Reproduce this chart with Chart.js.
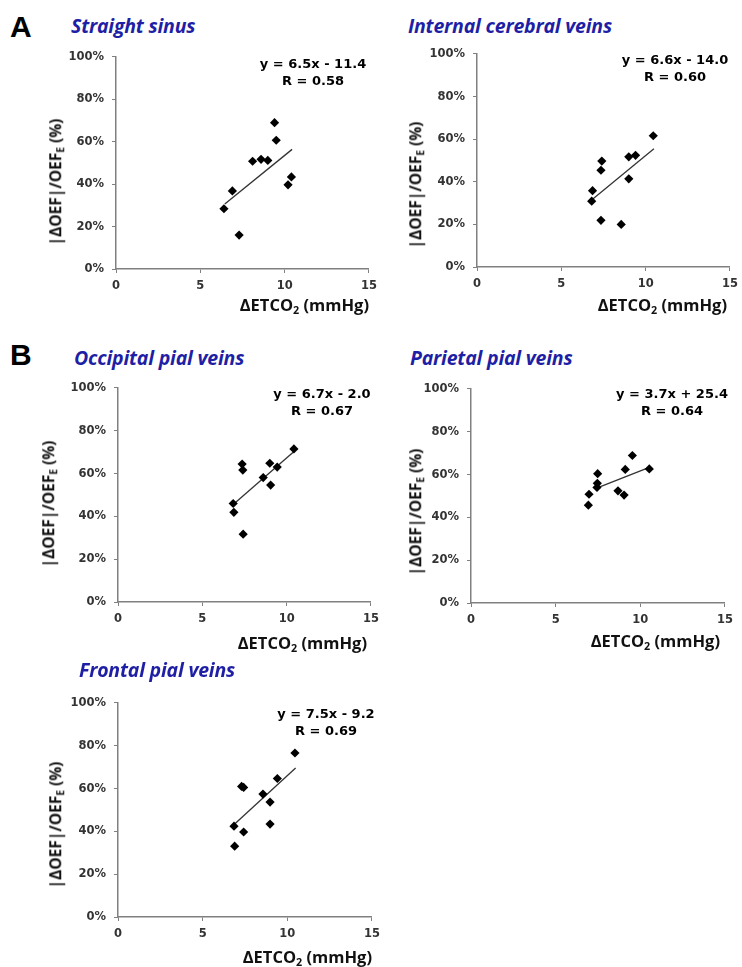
<!DOCTYPE html>
<html>
<head>
<meta charset="utf-8">
<script src="https://cdn.jsdelivr.net/npm/chart.js@4.4.1/dist/chart.umd.min.js"></script>
<style>
  body { margin: 0; background: #fff; }
  #fig { position: relative; width: 742px; height: 967px; overflow: hidden; background: #fff; }
  canvas.plot { position: absolute; }
  .title { position: absolute; font: italic bold 19.5px "Open Sans", sans-serif; color: #1f1fa5; white-space: nowrap; line-height: 1; letter-spacing: -0.2px; }
  .letter { position: absolute; font: bold 30px "Liberation Sans", Arial, sans-serif; color: #000; line-height: 1; }
  .eq { position: absolute; font: bold 13px "DejaVu Sans", sans-serif; color: #000; text-align: center; line-height: 17px; white-space: nowrap; transform: translateX(-50%); }
  .xt { position: absolute; font: bold 16.5px "Open Sans", sans-serif; color: #111; white-space: nowrap; line-height: 1; transform: translate(-100%, -50%); }
  .yt { position: absolute; font: bold 15.5px "Open Sans", sans-serif; color: #111; white-space: nowrap; line-height: 1; transform: translate(-50%, -50%) rotate(-90deg); }
  sub { font-size: 65%; vertical-align: -0.3em; line-height: 0; }
</style>
</head>
<body>
<div id="fig">
  <div class="letter" style="left:10px;top:12px">A</div>
  <div class="letter" style="left:10px;top:340px">B</div>
</div>
<script>
// values: ΔETCO2 (mmHg) vs |ΔOEF|/OEF_E (%)
const straightX = [6.4, 6.9, 7.3, 8.1, 8.6, 9.0, 9.4, 9.5, 10.2, 10.4];
const straightY = [28.4, 36.8, 16.0, 50.8, 51.7, 51.2, 69.0, 60.7, 39.7, 43.4];
const straightFitX = [6.45, 10.44];
const straightFitY = [30.6, 56.4];

const internalX = [6.8, 6.85, 7.35, 7.35, 7.4, 8.55, 9.0, 9.0, 9.4, 10.45];
const internalY = [30.9, 35.8, 21.9, 45.4, 49.7, 20.0, 41.4, 51.7, 52.4, 61.6];
const internalFitX = [6.85, 10.49];
const internalFitY = [31.8, 55.5];

const occipitalX = [6.83, 6.87, 7.36, 7.4, 7.42, 8.61, 9.0, 9.05, 9.44, 10.43];
const occipitalY = [46.0, 41.9, 64.4, 61.6, 31.7, 58.1, 64.8, 54.6, 63.0, 71.5];
const occipitalFitX = [6.83, 10.47];
const occipitalFitY = [45.5, 70.5];

const parietalX = [6.93, 6.97, 7.44, 7.46, 7.48, 8.68, 9.04, 9.11, 9.53, 10.53];
const parietalY = [45.7, 50.8, 54.0, 55.9, 60.4, 52.4, 50.4, 62.4, 68.9, 62.6];
const parietalFitX = [7.42, 10.53];
const parietalFitY = [53.7, 63.3];

const frontalX = [6.85, 6.89, 7.3, 7.42, 7.42, 8.56, 8.98, 8.98, 9.41, 10.45];
const frontalY = [42.4, 33.1, 61.0, 60.5, 39.7, 57.4, 53.7, 43.4, 64.7, 76.6];
const frontalFitX = [6.89, 10.49];
const frontalFitY = [43.4, 69.6];

const xTicks = [0, 5, 10, 15];
const yTicks = [0, 20, 40, 60, 80, 100];

const panels = [
  { title: "Straight sinus", xs: straightX, ys: straightY, fx: straightFitX, fy: straightFitY,
    eq: ["y = 6.5x - 11.4", "R = 0.58"],
    box: { x0: 116, x1: 369, top: 52, bottom: 269 },
    titleAt: [71, 27], eqAt: [313, 63], xtAt: [369, 305], ytAt: [56, 182] },
  { title: "Internal cerebral veins", xs: internalX, ys: internalY, fx: internalFitX, fy: internalFitY,
    eq: ["y = 6.6x - 14.0", "R = 0.60"],
    box: { x0: 477, x1: 730, top: 49, bottom: 267 },
    titleAt: [408, 27], eqAt: [675, 59], xtAt: [727, 305], ytAt: [416, 185] },
  { title: "Occipital pial veins", xs: occipitalX, ys: occipitalY, fx: occipitalFitX, fy: occipitalFitY,
    eq: ["y = 6.7x - 2.0", "R = 0.67"],
    box: { x0: 118, x1: 371, top: 383, bottom: 602 },
    titleAt: [74, 359], eqAt: [322, 393], xtAt: [367, 643], ytAt: [49, 504] },
  { title: "Parietal pial veins", xs: parietalX, ys: parietalY, fx: parietalFitX, fy: parietalFitY,
    eq: ["y = 3.7x + 25.4", "R = 0.64"],
    box: { x0: 471, x1: 725, top: 384, bottom: 603 },
    titleAt: [410, 359], eqAt: [672, 393], xtAt: [720, 641], ytAt: [416, 512] },
  { title: "Frontal pial veins", xs: frontalX, ys: frontalY, fx: frontalFitX, fy: frontalFitY,
    eq: ["y = 7.5x - 9.2", "R = 0.69"],
    box: { x0: 118, x1: 372, top: 698, bottom: 917 },
    titleAt: [79, 671], eqAt: [326, 713], xtAt: [372, 957], ytAt: [56, 825] },
];

const fig = document.getElementById("fig");
const tickFont = { family: "'DejaVu Sans', sans-serif", size: 11.5, weight: "bold" };
const axisGrey = "#808080";

function addDiv(cls, html, left, top) {
  const d = document.createElement("div");
  d.className = cls;
  d.innerHTML = html;
  d.style.left = left + "px";
  d.style.top = top + "px";
  fig.appendChild(d);
  return d;
}

function drawPanel(p) {
  const padL = 60, padR = 14, padT = 10, padB = 30;
  const cv = document.createElement("canvas");
  cv.className = "plot";
  cv.width = p.box.x1 - p.box.x0 + padL + padR;
  cv.height = p.box.bottom - p.box.top + padT + padB;
  cv.style.left = (p.box.x0 - padL) + "px";
  cv.style.top = (p.box.top - padT) + "px";
  fig.appendChild(cv);

  new Chart(cv, {
    type: "scatter",
    data: {
      datasets: [
        {
          data: p.xs.map((x, i) => ({ x: x, y: p.ys[i] })),
          pointStyle: "rectRot",
          pointRadius: 4.6,
          backgroundColor: "#000",
          borderColor: "#000",
          borderWidth: 0,
        },
        {
          type: "line",
          data: p.fx.map((x, i) => ({ x: x, y: p.fy[i] })),
          borderColor: "#333",
          borderWidth: 1.3,
          pointRadius: 0,
          fill: false,
        },
      ],
    },
    options: {
      responsive: false,
      animation: false,
      devicePixelRatio: 1,
      layout: { padding: { top: padT, right: padR, left: 0, bottom: 0 } },
      plugins: { legend: { display: false }, tooltip: { enabled: false } },
      scales: {
        x: {
          type: "linear",
          min: xTicks[0],
          max: xTicks[xTicks.length - 1],
          afterFit: (s) => { s.height = padB; },
          afterBuildTicks: (s) => { s.ticks = xTicks.map((v) => ({ value: v })); },
          ticks: { font: tickFont, color: "#333", padding: 6, maxRotation: 0 },
          grid: { drawOnChartArea: false, drawTicks: true, tickLength: 4, color: axisGrey },
          border: { color: axisGrey, width: 1.5 },
        },
        y: {
          min: yTicks[0],
          max: yTicks[yTicks.length - 1],
          afterFit: (s) => { s.width = padL; },
          afterBuildTicks: (s) => { s.ticks = yTicks.map((v) => ({ value: v })); },
          ticks: { font: tickFont, color: "#333", padding: 8, callback: (v) => v + "%" },
          grid: { drawOnChartArea: false, drawTicks: true, tickLength: 4, color: axisGrey },
          border: { color: axisGrey, width: 1.5 },
        },
      },
    },
  });

  addDiv("title", p.title, p.titleAt[0], p.titleAt[1] - 11);
  addDiv("eq", p.eq.join("<br>"), p.eqAt[0], p.eqAt[1] - 8.5);
  addDiv("xt", "&Delta;ETCO<sub>2</sub> (mmHg)", p.xtAt[0], p.xtAt[1]);
  addDiv("yt", "|&Delta;OEF|/OEF<sub>E</sub> (%)", p.ytAt[0], p.ytAt[1]);
}

panels.forEach(drawPanel);
</script>
</body>
</html>
